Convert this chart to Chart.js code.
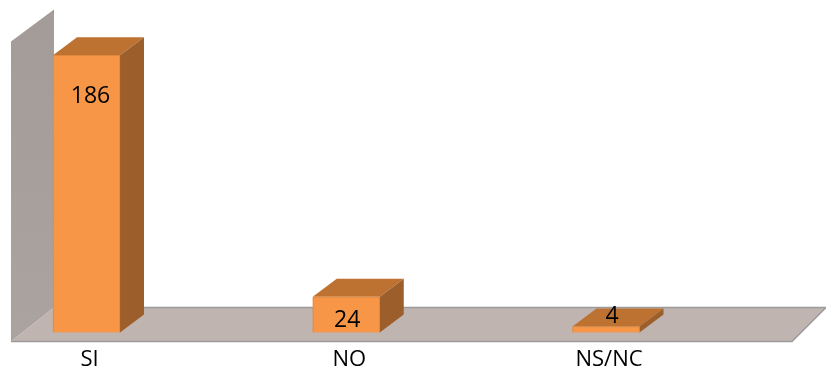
<!DOCTYPE html>
<html>
<head>
<meta charset="utf-8">
<style>
    html, body { margin: 0; background: #fff; }
    canvas { display: block; }
</style>
<script src="https://cdn.jsdelivr.net/npm/chart.js@4"></script>
</head>
<body>
<canvas id="chart" width="826" height="370"></canvas>
<script>
const categories = ['SI', 'NO', 'NS/NC'];
const values = [186, 24, 4];

// where each value label sits relative to the top centre of its bar
const labelOffsets = [[4, 41], [1, 24], [6, -10]];

const depthX = 24;
const depthY = 18;

function poly(ctx, points, fill) {
    ctx.beginPath();
    points.forEach(([x, y], i) => i ? ctx.lineTo(x, y) : ctx.moveTo(x, y));
    ctx.closePath();
    ctx.fillStyle = fill;
    ctx.fill();
}

// grey back wall and floor of the 3D box
const roomPlugin = {
    id: 'room',
    beforeDatasetsDraw(chart) {
        const { ctx } = chart;
        const y = chart.scales.y;
        const x = chart.scales.x;
        const base = y.getPixelForValue(0);
        const front = base + 9;
        const back = base - 25;
        const left = x.left - 75.5;
        const wallBack = left + 43;
        const right = x.right + 186;
        const top = y.getPixelForValue(200);

        const wall = ctx.createLinearGradient(0, top, 0, front);
        wall.addColorStop(0, '#a39c98');
        wall.addColorStop(1, '#aaa39f');
        poly(ctx, [[left, top + 7], [wallBack, top - 25], [wallBack, back], [left, front]], wall);
        poly(ctx, [[left, front], [wallBack, back], [right + 34, back], [right, front]], '#bfb4af');

        ctx.strokeStyle = '#9c9a9a';
        ctx.lineWidth = 1.5;
        ctx.beginPath();
        ctx.moveTo(left, front);
        ctx.lineTo(right, front);
        ctx.lineTo(right + 34, back);
        ctx.moveTo(wallBack, back);
        ctx.lineTo(right + 34, back);
        ctx.stroke();

        // top and side faces, taken from the bars the library has laid out
        chart.getDatasetMeta(0).data.forEach(bar => {
            const { x: cx, y: barTop, base: barBase, width } = bar.getProps(['x', 'y', 'base', 'width'], true);
            const l = cx - width / 2;
            const r = cx + width / 2;
            poly(ctx, [[l, barTop], [l + depthX, barTop - depthY], [r + depthX, barTop - depthY], [r, barTop]], '#bd7232');
            poly(ctx, [[r, barTop], [r + depthX, barTop - depthY], [r + depthX, barBase - depthY], [r, barBase]], '#9c5f2b');
        });
    },
    afterDatasetsDraw(chart) {
        const { ctx } = chart;
        ctx.fillStyle = '#000';
        ctx.font = '23px "Open Sans"';
        ctx.textAlign = 'center';
        ctx.textBaseline = 'middle';
        chart.getDatasetMeta(0).data.forEach((bar, i) => {
            const { x, y } = bar.getProps(['x', 'y'], true);
            ctx.fillText(values[i], x + labelOffsets[i][0], y + labelOffsets[i][1]);
        });
    }
};

new Chart(document.getElementById('chart'), {
    type: 'bar',
    data: {
        labels: categories,
        datasets: [{
            data: values,
            backgroundColor: '#f79646',
            borderColor: '#e0873c',
            borderWidth: 1,
            barThickness: 67,
            clip: false
        }]
    },
    options: {
        responsive: false,
        animation: false,
        layout: { padding: { left: 86.5, right: 220, top: 34.5, bottom: 0 } },
        plugins: { legend: { display: false }, tooltip: { enabled: false } },
        scales: {
            x: {
                offset: false,
                grid: { display: false, drawTicks: false },
                border: { display: false },
                ticks: {
                    color: '#000',
                    padding: 14,
                    labelOffset: 3,
                    maxRotation: 0,
                    font: { family: '"Open Sans"', size: 22 }
                },
                afterFit(scale) { scale.height = 37.5; }
            },
            y: { display: false, min: 0, max: 200 }
        }
    },
    plugins: [roomPlugin]
});
</script>
</body>
</html>
